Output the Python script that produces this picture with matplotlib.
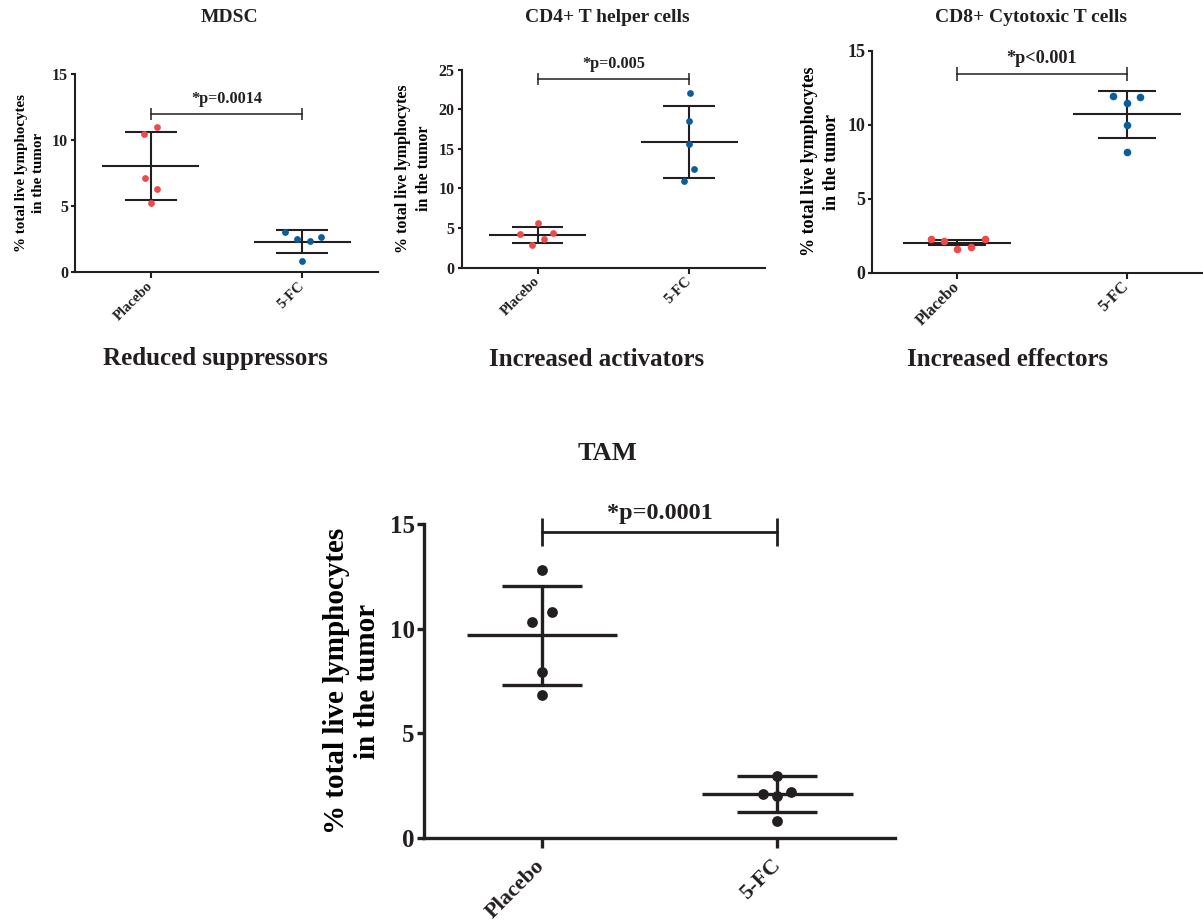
import matplotlib
matplotlib.use('Agg')
import matplotlib.pyplot as plt

# ─── Data ─────────────────────────────────────────────────────────────────────
GROUPS = ['Placebo', '5-FC']

MDSC_PLACEBO = [10.45, 10.98, 7.15, 6.26, 5.20]
MDSC_5FC     = [3.05, 2.50, 2.32, 2.63, 0.81]
MDSC_MEAN    = [8.0, 2.3]
MDSC_SD      = [2.57, 0.86]

CD4_PLACEBO = [4.25, 5.60, 3.66, 4.34, 2.87]
CD4_5FC     = [22.1, 18.5, 15.6, 12.46, 11.0]
CD4_MEAN    = [4.1, 15.9]
CD4_SD      = [1.0, 4.55]

CD8_PLACEBO = [2.28, 2.14, 1.62, 1.74, 2.28]
CD8_5FC     = [11.94, 11.85, 11.44, 9.98, 8.18]
CD8_MEAN    = [2.03, 10.7]
CD8_SD      = [0.16, 1.6]

TAM_PLACEBO = [12.8, 10.78, 10.32, 7.93, 6.83]
TAM_5FC     = [2.95, 2.10, 2.00, 2.20, 0.78]
TAM_MEAN    = [9.7, 2.08]
TAM_SD      = [2.37, 0.87]

P_TEXT = ['*p=0.0014', '*p=0.005', '*p<0.001', '*p=0.0001']
BRACKET_Y = [11.95, 23.8, 13.4, 14.63]

# horizontal spread of the dots (category units), as laid out in the original
SPREAD = {
    'MDSC': ([-0.044, 0.040, -0.037, 0.041, 0.0], [-0.116, -0.033, 0.048, 0.122, 0.0]),
    'CD4':  ([-0.116, 0.0, 0.041, 0.10, -0.035], [0.005, 0.0, 0.0, 0.033, -0.031]),
    'CD8':  ([-0.157, -0.077, 0.0, 0.079, 0.167], [-0.082, 0.078, 0.0, 0.0, 0.0]),
    'TAM':  ([0.0, 0.042, -0.043, 0.0, 0.0], [0.0, -0.061, 0.0, 0.06, 0.0]),
}

# ─── Style ────────────────────────────────────────────────────────────────────
RED = '#ec4b4e'
BLUE = '#0b5e9c'
INK = '#231f20'

plt.rcParams.update({
    'font.family': 'Liberation Serif',
    'font.weight': 'bold',
    'axes.labelweight': 'bold',
    'text.color': INK,
    'axes.edgecolor': INK,
    'xtick.color': INK,
    'ytick.color': INK,
})

W, H = 1203, 922
fig = plt.figure(figsize=(W / 100, H / 100), dpi=100)


def px_axes(x0, y_top, x1, y_bot):
    return fig.add_axes([x0 / W, 1 - y_bot / H, (x1 - x0) / W, (y_bot - y_top) / H])


def draw_panel(ax, pts, means, sds, colors, spread, ymax, yticks, bracket_y, ptext,
               xmax=1.5, ylabel_size=10.8, k=1.0, big=False):
    lw = 2.4 if big else 1.5
    dot = 60 if big else 24 * k * k
    for i, (vals, col, off) in enumerate(zip(pts, colors, spread)):
        ax.hlines(means[i], i - 0.32, i + 0.32, color=INK, lw=lw, zorder=2)
        ax.hlines([means[i] - sds[i], means[i] + sds[i]], i - 0.17, i + 0.17,
                  color=INK, lw=lw, zorder=2)
        ax.vlines(i, means[i] - sds[i], means[i] + sds[i], color=INK, lw=lw, zorder=2)
        ax.scatter([i + o for o in off], vals, s=dot, color=col, zorder=3,
                   linewidths=0)

    # significance bracket
    ax.plot([0, 1], [bracket_y, bracket_y], color=INK, lw=2.0 if big else 1.1,
            marker='|', markersize=20 if big else 8.5 * k,
            markeredgewidth=2.0 if big else 1.1, clip_on=False)
    ax.annotate(ptext, (0.5, bracket_y), xytext=(0, 6 if big else 5),
                textcoords='offset points', ha='center', va='bottom',
                fontsize=17.5 if big else 11.7 * k, fontweight='bold')

    ax.set_xlim(-0.5, xmax)
    ax.set_ylim(0, ymax)
    ax.set_yticks(yticks)
    ax.set_xticks([0, 1])
    ax.set_xticklabels(GROUPS, rotation=45, ha='right', va='center',
                       rotation_mode='anchor')
    ax.spines['top'].set_visible(False)
    ax.spines['right'].set_visible(False)
    for s in ('left', 'bottom'):
        ax.spines[s].set_linewidth(2.4 if big else 1.5)
    ax.tick_params(axis='y', length=5 if big else 3, width=2.4 if big else 1.5,
                   labelsize=18 if big else 11.5 * k, pad=2)
    ax.tick_params(axis='x', length=7 if big else 4.5, width=2.4 if big else 1.5,
                   labelsize=16 if big else 10.5 * k, pad=11 if big else 4)
    ax.set_ylabel('% total live lymphocytes\nin the tumor',
                  fontsize=ylabel_size, labelpad=6 if big else 5,
                  linespacing=1.22 if big else 1.4)
    ax.patch.set_alpha(0)


ax_mdsc = px_axes(75, 74, 378, 272)
ax_cd4 = px_axes(461.7, 69.7, 765, 267.7)
ax_cd8 = px_axes(872.3, 50.7, 1201.5, 272.7)
ax_tam = px_axes(424.3, 524.3, 895, 837.7)

draw_panel(ax_mdsc, [MDSC_PLACEBO, MDSC_5FC], MDSC_MEAN, MDSC_SD, [RED, BLUE],
           SPREAD['MDSC'], 15, [0, 5, 10, 15], BRACKET_Y[0], P_TEXT[0])
draw_panel(ax_cd4, [CD4_PLACEBO, CD4_5FC], CD4_MEAN, CD4_SD, [RED, BLUE],
           SPREAD['CD4'], 25, [0, 5, 10, 15, 20, 25], BRACKET_Y[1], P_TEXT[1],
           ylabel_size=11.5)
draw_panel(ax_cd8, [CD8_PLACEBO, CD8_5FC], CD8_MEAN, CD8_SD, [RED, BLUE],
           SPREAD['CD8'], 15, [0, 5, 10, 15], BRACKET_Y[2], P_TEXT[2],
           xmax=1.44, ylabel_size=13, k=1.12)
draw_panel(ax_tam, [TAM_PLACEBO, TAM_5FC], TAM_MEAN, TAM_SD, [INK, INK],
           SPREAD['TAM'], 15, [0, 5, 10, 15], BRACKET_Y[3], P_TEXT[3],
           ylabel_size=21, big=True)


def fig_text(x, y, s, size):
    fig.text(x / W, 1 - y / H, s, ha='center', va='center', fontsize=size,
             fontweight='bold')


fig_text(229, 18, 'MDSC', 14)
fig_text(607, 18, 'CD4+ T helper cells', 14)
fig_text(1031, 18, 'CD8+ Cytotoxic T cells', 14)
fig_text(607, 453, 'TAM', 19)

fig_text(215, 359, 'Reduced suppressors', 18)
fig_text(597, 359, 'Increased activators', 18)
fig_text(1008, 359, 'Increased effectors', 18)

fig.savefig('out.png', dpi=100)
